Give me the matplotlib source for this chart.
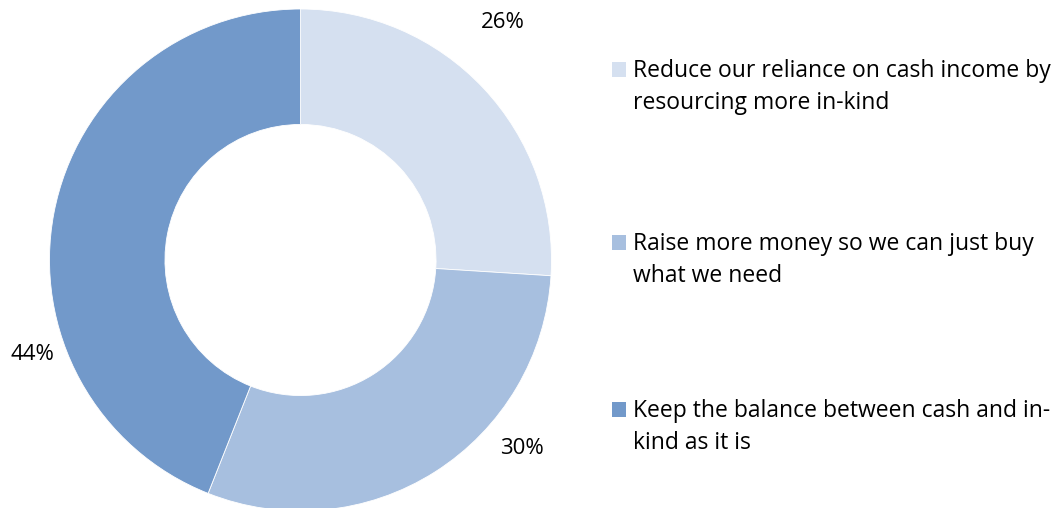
import matplotlib
matplotlib.use("Agg")
import matplotlib.pyplot as plt
from matplotlib.patches import Rectangle

# Survey responses: preferred approach to cash vs in-kind resourcing
categories = [
    "Reduce our reliance on cash income by\nresourcing more in-kind",
    "Raise more money so we can just buy\nwhat we need",
    "Keep the balance between cash and in-\nkind as it is",
]
shares = [26, 30, 44]
colors = ["#D5E0F0", "#A7BFDF", "#7299CA"]

W, H = 1062, 508
fig = plt.figure(figsize=(W / 100, H / 100), dpi=100)
ax = fig.add_axes([0, 0, 1, 1])

font = "Open Sans"
cx, cy, R = 300.5, H - 260, 251

ax.pie(
    shares,
    colors=colors,
    startangle=90,
    counterclock=False,
    center=(cx, cy),
    radius=R,
    frame=True,
    wedgeprops=dict(width=R * 0.46, edgecolor="white", linewidth=0.6),
)
ax.set_xlim(0, W)
ax.set_ylim(0, H)
ax.set_aspect("equal")
ax.axis("off")

# percentage labels placed around the ring
label_pos = [(503, H - 22), (522, H - 448), (32, H - 355)]
for (x, y), v in zip(label_pos, shares):
    ax.text(x, y, f"{v}%", ha="center", va="center",
            fontsize=16, family=font, color="#000000")

# legend on the right, one text line at a time
legend_baseline = [77, 250, 417]
line_gap = 32
for base, lab, c in zip(legend_baseline, categories, colors):
    ax.add_patch(Rectangle((611.5, H - base), 14.5, 15, facecolor=c,
                           edgecolor="none"))
    for i, line in enumerate(lab.split("\n")):
        ax.text(633, H - base - i * line_gap, line, ha="left", va="baseline",
                fontsize=16.5, family=font, color="#000000")

fig.savefig("out.png", dpi=100)
